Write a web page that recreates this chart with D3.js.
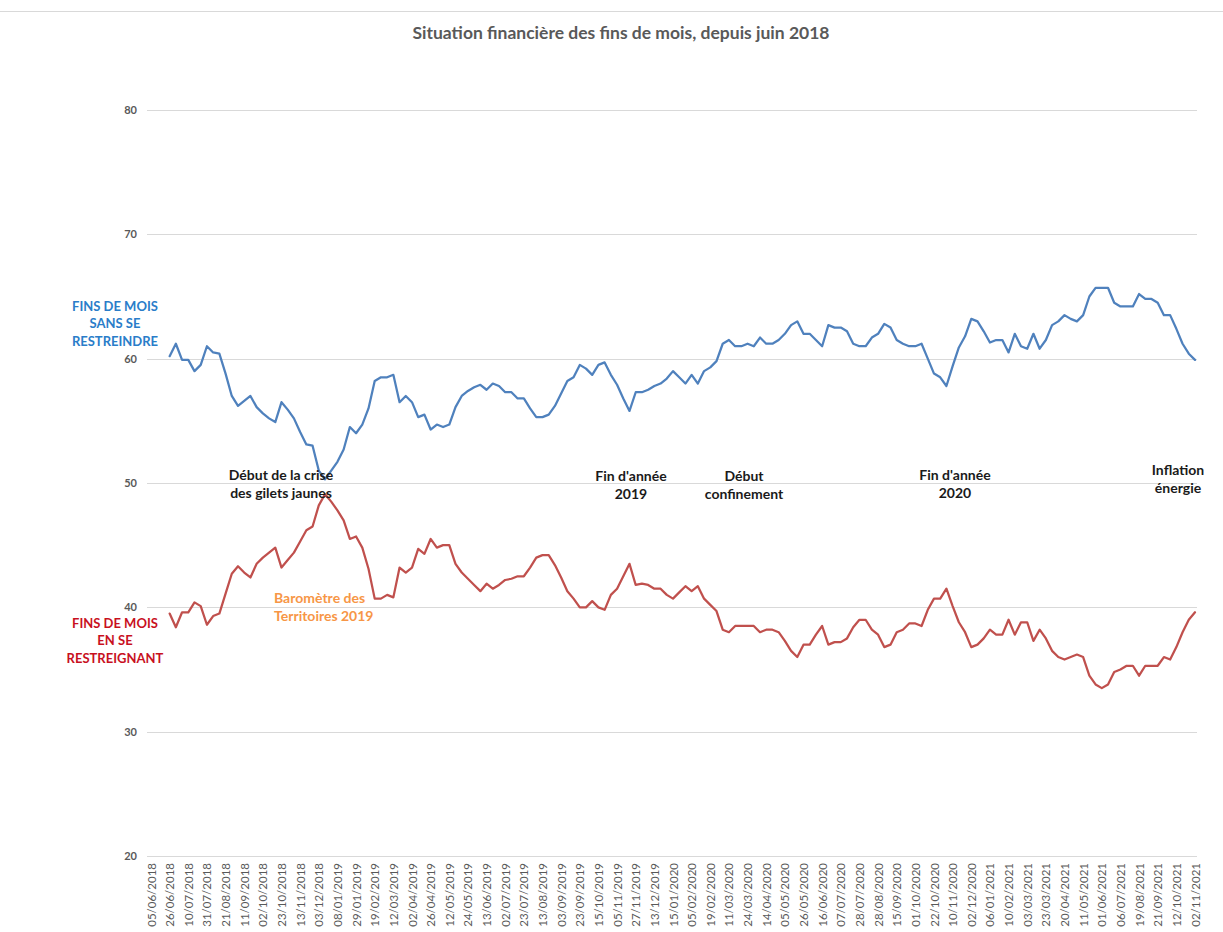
<!DOCTYPE html>
<html>
<head>
<meta charset="utf-8">
<script src="https://cdn.jsdelivr.net/npm/d3@7"></script>
<style>
  html, body { margin: 0; padding: 0; background: #fff; }
  svg { display: block; font-family: Lato, "Open Sans", sans-serif; }
</style>
</head>
<body>
<svg id="chart" width="1223" height="932"></svg>
<script>
// ---- data ----
const tickLabels = [
  "05/06/2018","26/06/2018","10/07/2018","31/07/2018","21/08/2018","11/09/2018","02/10/2018","23/10/2018",
  "13/11/2018","03/12/2018","08/01/2019","29/01/2019","19/02/2019","12/03/2019","02/04/2019","26/04/2019",
  "12/05/2019","24/05/2019","13/06/2019","02/07/2019","23/07/2019","13/08/2019","03/09/2019","23/09/2019",
  "15/10/2019","05/11/2019","27/11/2019","13/12/2019","15/01/2020","05/02/2020","19/02/2020","11/03/2020",
  "24/03/2020","14/04/2020","05/05/2020","26/05/2020","16/06/2020","07/07/2020","28/07/2020","28/08/2020",
  "15/09/2020","01/10/2020","22/10/2020","10/11/2020","02/12/2020","06/01/2021","10/02/2021","03/03/2021",
  "23/03/2021","20/04/2021","11/05/2021","01/06/2021","06/07/2021","19/08/2021","21/09/2021","12/10/2021",
  "02/11/2021"
];
const labelEvery = 3; // one date label every 3 survey waves

// "Fins de mois sans se restreindre" (first 3 waves without data)
const sansSeRestreindre = [
  null, null, null,
  60.2, 61.2, 59.9, 59.9, 59.0, 59.5, 61.0, 60.5, 60.4, 58.8,
  57.0, 56.2, 56.6, 57.0, 56.1, 55.6, 55.2, 54.9, 56.5, 55.9,
  55.2, 54.1, 53.1, 53.0, 51.0, 50.3, 51.0, 51.7, 52.7, 54.5,
  54.0, 54.7, 56.0, 58.2, 58.5, 58.5, 58.7, 56.5, 57.0, 56.5,
  55.3, 55.5, 54.3, 54.7, 54.5, 54.7, 56.1, 57.0, 57.4, 57.7,
  57.9, 57.5, 58.0, 57.8, 57.3, 57.3, 56.8, 56.8, 56.0, 55.3,
  55.3, 55.5, 56.2, 57.2, 58.2, 58.5, 59.5, 59.2, 58.7, 59.5,
  59.7, 58.7, 57.9, 56.8, 55.8, 57.3, 57.3, 57.5, 57.8, 58.0,
  58.4, 59.0, 58.5, 58.0, 58.7, 58.0, 59.0, 59.3, 59.8, 61.2,
  61.5, 61.0, 61.0, 61.2, 61.0, 61.7, 61.2, 61.2, 61.5, 62.0,
  62.7, 63.0, 62.0, 62.0, 61.5, 61.0, 62.7, 62.5, 62.5, 62.2,
  61.2, 61.0, 61.0, 61.7, 62.0, 62.8, 62.5, 61.5, 61.2, 61.0,
  61.0, 61.2, 60.0, 58.8, 58.5, 57.8, 59.4, 60.9, 61.8, 63.2,
  63.0, 62.2, 61.3, 61.5, 61.5, 60.5, 62.0, 61.0, 60.8, 62.0,
  60.8, 61.5, 62.7, 63.0, 63.5, 63.2, 63.0, 63.5, 65.0, 65.7,
  65.7, 65.7, 64.5, 64.2, 64.2, 64.2, 65.2, 64.8, 64.8, 64.5,
  63.5, 63.5, 62.4, 61.2, 60.4, 59.9
];

// "Fins de mois en se restreignant"
const enSeRestreignant = [
  null, null, null,
  39.5, 38.4, 39.6, 39.6, 40.4, 40.1, 38.6, 39.3, 39.5, 41.1,
  42.7, 43.3, 42.8, 42.4, 43.5, 44.0, 44.4, 44.8, 43.2, 43.8,
  44.4, 45.3, 46.2, 46.5, 48.2, 49.1, 48.5, 47.8, 47.0, 45.5,
  45.7, 44.8, 43.1, 40.7, 40.7, 41.0, 40.8, 43.2, 42.8, 43.2,
  44.7, 44.3, 45.5, 44.8, 45.0, 45.0, 43.5, 42.8, 42.3, 41.8,
  41.3, 41.9, 41.5, 41.8, 42.2, 42.3, 42.5, 42.5, 43.2, 44.0,
  44.2, 44.2, 43.4, 42.4, 41.3, 40.7, 40.0, 40.0, 40.5, 40.0,
  39.8, 41.0, 41.5, 42.5, 43.5, 41.8, 41.9, 41.8, 41.5, 41.5,
  41.0, 40.7, 41.2, 41.7, 41.3, 41.7, 40.7, 40.2, 39.7, 38.2,
  38.0, 38.5, 38.5, 38.5, 38.5, 38.0, 38.2, 38.2, 38.0, 37.3,
  36.5, 36.0, 37.0, 37.0, 37.8, 38.5, 37.0, 37.2, 37.2, 37.5,
  38.4, 39.0, 39.0, 38.2, 37.8, 36.8, 37.0, 38.0, 38.2, 38.7,
  38.7, 38.5, 39.8, 40.7, 40.7, 41.5, 40.1, 38.8, 38.0, 36.8,
  37.0, 37.5, 38.2, 37.8, 37.8, 39.0, 37.8, 38.8, 38.8, 37.3,
  38.2, 37.5, 36.5, 36.0, 35.8, 36.0, 36.2, 36.0, 34.5, 33.8,
  33.5, 33.8, 34.8, 35.0, 35.3, 35.3, 34.5, 35.3, 35.3, 35.3,
  36.0, 35.8, 36.8, 38.0, 39.0, 39.6
];

const yTicks = [20, 30, 40, 50, 60, 70, 80];

const title = "Situation financière des fins de mois, depuis juin 2018";
const seriesLabels = [
  { lines: ["FINS DE MOIS", "SANS SE", "RESTREINDRE"], color: "#2A7DC9", x: 115, y: 306 },
  { lines: ["FINS DE MOIS", "EN SE", "RESTREIGNANT"], color: "#C8101E", x: 115, y: 623 }
];
const annotations = [
  { lines: ["Début de la crise", "des gilets jaunes"], x: 281, y: 475, color: "#1a1a1a", anchor: "middle" },
  { lines: ["Fin d'année", "2019"], x: 631, y: 476, color: "#1a1a1a", anchor: "middle" },
  { lines: ["Début", "confinement"], x: 744, y: 476, color: "#1a1a1a", anchor: "middle" },
  { lines: ["Fin d'année", "2020"], x: 955, y: 475, color: "#1a1a1a", anchor: "middle" },
  { lines: ["Inflation", "énergie"], x: 1178, y: 470, color: "#1a1a1a", anchor: "middle" },
  { lines: ["Baromètre des", "Territoires 2019"], x: 274, y: 598, color: "#F79646", anchor: "start" }
];

// ---- layout ----
const svg = d3.select("#chart");
const W = 1223, H = 932;
const plot = { left: 147, right: 1197, top: 110, bottom: 856 };
const nCats = (tickLabels.length - 1) * labelEvery + 1;

const x = d3.scaleLinear().domain([0, nCats - 1]).range([151, 1195]);
const y = d3.scaleLinear().domain([20, 80]).range([plot.bottom, plot.top]);

// outer frame top line
svg.append("line").attr("x1", 0).attr("x2", W).attr("y1", 11.5).attr("y2", 11.5)
  .attr("stroke", "#d9d9d9").attr("stroke-width", 1);

// title
svg.append("text").attr("x", 621).attr("y", 39).attr("text-anchor", "middle")
  .attr("fill", "#595959").attr("font-size", 17.5).attr("font-weight", 700)
  .text(title);

// y axis + gridlines
const yAxis = d3.axisLeft(y).tickValues(yTicks)
  .tickSize(-(plot.right - plot.left)).tickPadding(10).tickFormat(d3.format("d"));
const gy = svg.append("g").attr("transform", `translate(${plot.left},0)`).call(yAxis);
gy.select(".domain").remove();
gy.selectAll(".tick line").attr("stroke", "#d9d9d9").attr("stroke-width", 1)
  .attr("shape-rendering", "crispEdges");
gy.selectAll(".tick text").attr("fill", "#595959").attr("font-size", 11)
  .attr("font-weight", 700).attr("font-family", "Lato, sans-serif");

// x axis labels
const xTickVals = tickLabels.map((_, i) => i * labelEvery);
const xAxis = d3.axisBottom(x).tickValues(xTickVals).tickSize(0).tickPadding(0)
  .tickFormat((d) => tickLabels[d / labelEvery]);
const gx = svg.append("g").attr("transform", `translate(0,${plot.bottom})`).call(xAxis);
gx.select(".domain").remove();
gx.selectAll(".tick text")
  .attr("fill", "#595959").attr("font-size", 11.5).attr("font-family", "Lato, sans-serif")
  .attr("text-anchor", "end")
  .attr("transform", "rotate(-90)")
  .attr("x", -7).attr("y", 0).attr("dy", "0.35em");

// lines
const line = d3.line().defined((d) => d != null)
  .x((d, i) => x(i)).y((d) => y(d));

svg.append("path").datum(sansSeRestreindre)
  .attr("fill", "none").attr("stroke", "#4F81BD").attr("stroke-width", 2.25)
  .attr("stroke-linejoin", "round").attr("stroke-linecap", "round")
  .attr("d", line);

svg.append("path").datum(enSeRestreignant)
  .attr("fill", "none").attr("stroke", "#C0504D").attr("stroke-width", 2.25)
  .attr("stroke-linejoin", "round").attr("stroke-linecap", "round")
  .attr("d", line);

// series labels
seriesLabels.forEach((s) => {
  const t = svg.append("text").attr("text-anchor", "middle").attr("fill", s.color)
    .attr("font-size", 13).attr("font-weight", 700);
  s.lines.forEach((l, k) => {
    t.append("tspan").attr("x", s.x).attr("y", s.y + k * 17.5).attr("dy", "0.35em").text(l);
  });
});

// annotations
annotations.forEach((a) => {
  const t = svg.append("text").attr("text-anchor", a.anchor).attr("fill", a.color)
    .attr("font-size", 14).attr("font-weight", 700);
  a.lines.forEach((l, k) => {
    t.append("tspan").attr("x", a.x).attr("y", a.y + k * 18).attr("dy", "0.35em").text(l);
  });
});
</script>
</body>
</html>
